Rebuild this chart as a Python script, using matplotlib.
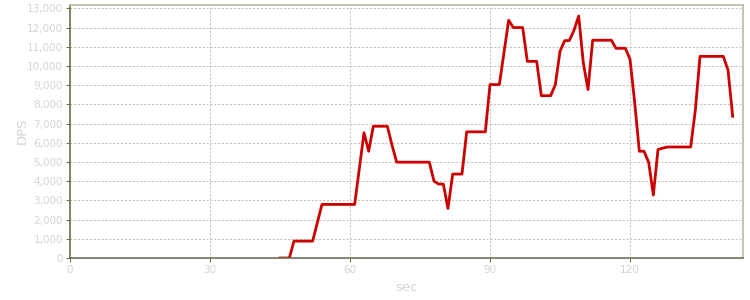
import numpy as np
import matplotlib
matplotlib.use("Agg")
import matplotlib.pyplot as plt
from matplotlib.ticker import FuncFormatter

# seconds and DPS
sec = list(range(45, 143))
dps = [0, 0, 0, 880, 880, 880, 880, 880, 1840, 2790,
       2790, 2790, 2790, 2790, 2790, 2790, 2790, 4650, 6520, 5560,
       6860, 6860, 6860, 6860, 5880, 4990, 4990, 4990, 4990, 4990,
       4990, 4990, 4990, 4000, 3850, 3850, 2580, 4370, 4370, 4370,
       6570, 6570, 6570, 6570, 6570, 9030, 9030, 9030, 10700, 12380,
       12000, 12000, 12000, 10240, 10240, 10240, 8450, 8450, 8450, 9030,
       10760, 11320, 11320, 11860, 12600, 10150, 8770, 11340, 11340, 11340,
       11340, 11340, 10920, 10920, 10920, 10350, 8100, 5560, 5560, 4980,
       3280, 5650, 5720, 5780, 5780, 5780, 5780, 5780, 5780, 7700,
       10500, 10500, 10500, 10500, 10500, 10500, 9780, 7380]
x_ticks = [0, 30, 60, 90, 120]
y_ticks = list(range(0, 14000, 1000))

label_col = "#d4d4d4"
fig = plt.figure(figsize=(7.5, 3), dpi=100)
ax = fig.add_axes([0.0933, 0.14, 0.8973, 0.845])
ax.plot(sec, dps, color="#cc0000", lw=2)

ax.set_xlim(0, 144.2)
ax.set_ylim(0, 13200)
ax.set_xticks(x_ticks)
ax.set_yticks(y_ticks)
ax.yaxis.set_major_formatter(FuncFormatter(lambda v, p: "{:,.0f}".format(v)))
ax.grid(True, color="#bdbdad", ls=(0, (2, 2)), lw=0.7)
ax.tick_params(colors="#707050", labelcolor=label_col, labelsize=7.5, length=3, pad=2)
for s in ["left", "bottom"]:
    ax.spines[s].set_color("#707050")
    ax.spines[s].set_linewidth(1.2)
for s in ["top", "right"]:
    ax.spines[s].set_color("#b8b8a8")
    ax.spines[s].set_linewidth(1.2)
ax.set_xlabel("sec", color=label_col, fontsize=9.5)
ax.set_ylabel("DPS", color=label_col, fontsize=9.5)
ax.xaxis.set_label_coords(0.5, -0.09)
ax.yaxis.set_label_coords(-0.061, 0.5)
fig.savefig("out.png", dpi=100)
